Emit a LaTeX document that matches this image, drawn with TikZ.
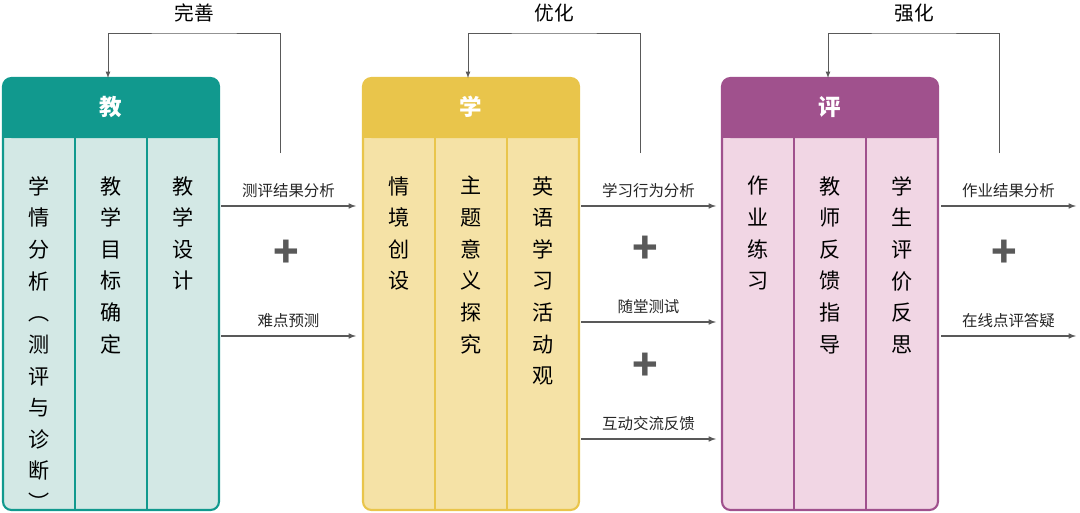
\documentclass[tikz,border=0pt]{standalone}
\usepackage{fontspec}
\setmainfont{Noto Sans CJK SC}
\usetikzlibrary{positioning}
\definecolor{tealHead}{HTML}{11998E}
\definecolor{tealBody}{HTML}{D3E8E5}
\definecolor{goldHead}{HTML}{E9C54B}
\definecolor{goldBody}{HTML}{F5E2A6}
\definecolor{plumHead}{HTML}{A0518D}
\definecolor{plumBody}{HTML}{F1D6E4}
\colorlet{lineColor}{black!65}
\tikzset{>=latex,
  colText/.style={anchor=north, align=center, font=\fontsize{15}{22.5}\selectfont, inner sep=0pt},
  headText/.style={text=white, font=\fontsize{16}{18}\selectfont\bfseries},
  flowArrow/.style={->, lineColor, thick},
  flowLabel/.style={above=2pt, font=\fontsize{11}{13}\selectfont, text=black!85},
  plusSign/.style={lineColor, font=\fontsize{30}{30}\selectfont\bfseries},
  loopLabel/.style={font=\fontsize{14}{16}\selectfont}}
% one panel: x, header colour, body colour, title, three columns
\newcommand{\panel}[7]{%
  \begin{scope}[shift={(#1,0)}]
  \fill[#3, rounded corners=6pt] (0,-78) rectangle (216,-510);
  \fill[#2, rounded corners=6pt] (0,-78) rectangle (216,-138);
  \fill[#2] (0,-120) rectangle (216,-138);
  \draw[#2, line width=1.5pt, rounded corners=6pt] (0,-78) rectangle (216,-510);
  \draw[#2, line width=1pt] (72,-138) -- (72,-510) (144,-138) -- (144,-510);
  \node[headText] at (108,-107) {#4};
  \node[colText] at (36,-176) {#5};
  \node[colText] at (108,-176) {#6};
  \node[colText] at (180,-176) {#7};
  \end{scope}}
\begin{document}
\begin{tikzpicture}[x=0.025cm, y=0.025cm]
\useasboundingbox (0,0) rectangle (1080,-513);
\panel{3}{tealHead}{tealBody}{教}{学\\情\\分\\析\\︵\\测\\评\\与\\诊\\断\\︶}{教\\学\\目\\标\\确\\定}{教\\学\\设\\计}
\panel{363}{goldHead}{goldBody}{学}{情\\境\\创\\设}{主\\题\\意\\义\\探\\究}{英\\语\\学\\习\\活\\动\\观}
\panel{722}{plumHead}{plumBody}{评}{作\\业\\练\\习}{教\\师\\反\\馈\\指\\导}{学\\生\\评\\价\\反\\思}
% feedback loops
\coordinate (l1a) at (280,-153); \coordinate (l1b) at (108,-78);
\coordinate (l2a) at (640,-153); \coordinate (l2b) at (468,-78);
\coordinate (l3a) at (999,-153); \coordinate (l3b) at (828,-78);
\draw[flowArrow, semithick] (l1a) |- (194,-33) -| (l1b);
\draw[flowArrow, semithick] (l2a) |- (554,-33) -| (l2b);
\draw[flowArrow, semithick] (l3a) |- (914,-33) -| (l3b);
\node[loopLabel] (lbl1) at (194,-13) {完善};
\node[loopLabel] (lbl2) at (554,-13) {优化};
\node[loopLabel] (lbl3) at (914,-13) {强化};
% flows between panels
\coordinate (a1) at (221,-206); \coordinate (b1) at (356,-206);
\coordinate (a2) at (221,-336); \coordinate (b2) at (356,-336);
\draw[flowArrow] (a1) -- node[flowLabel] {测评结果分析} (b1);
\draw[flowArrow] (a2) -- node[flowLabel] {难点预测} (b2);
\node[plusSign] (p1) at (286,-254) {+};
\coordinate (a3) at (581,-206); \coordinate (b3) at (716,-206);
\coordinate (a4) at (581,-322); \coordinate (b4) at (716,-322);
\coordinate (a5) at (581,-439); \coordinate (b5) at (716,-439);
\draw[flowArrow] (a3) -- node[flowLabel] {学习行为分析} (b3);
\draw[flowArrow] (a4) -- node[flowLabel] {随堂测试} (b4);
\draw[flowArrow] (a5) -- node[flowLabel] {互动交流反馈} (b5);
\node[plusSign] (p2) at (645,-250) {+};
\node[plusSign] (p3) at (645,-367) {+};
\coordinate (a6) at (941,-206); \coordinate (b6) at (1076,-206);
\coordinate (a7) at (941,-336); \coordinate (b7) at (1076,-336);
\draw[flowArrow] (a6) -- node[flowLabel] {作业结果分析} (b6);
\draw[flowArrow] (a7) -- node[flowLabel] {在线点评答疑} (b7);
\node[plusSign] (p4) at (1004,-254) {+};
\end{tikzpicture}
\end{document}
